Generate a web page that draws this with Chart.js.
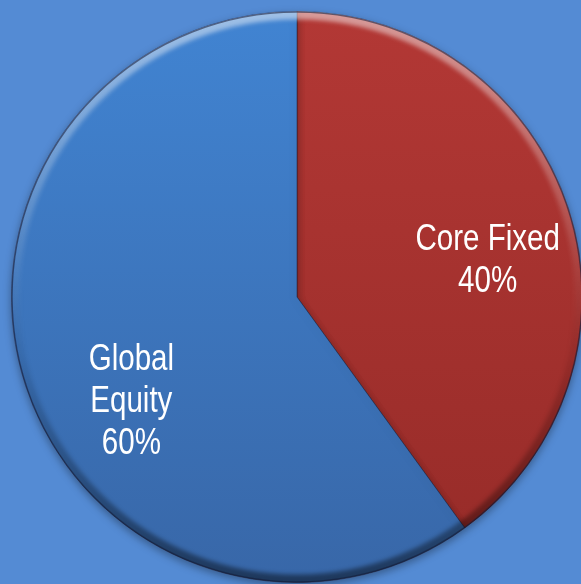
<!DOCTYPE html>
<html>
<head>
<meta charset="utf-8">
<title>Allocation</title>
<script src="https://cdn.jsdelivr.net/npm/chart.js@4.4.1/dist/chart.umd.min.js"></script>
<style>
  html, body { margin: 0; padding: 0; overflow: hidden; background: #548bd4; }
  #wrap { position: absolute; left: 0; top: 0; width: 594px; height: 594px; }
</style>
</head>
<body>
<div id="wrap"><canvas id="allocChart" width="594" height="594"></canvas></div>
<script>
// portfolio split
var categories = ["Core Fixed", "Global Equity"];
var labelLines = [["Core Fixed"], ["Global", "Equity"]];
var shares = [40, 60];

// slice fills, top -> bottom
var topColors = ["#b33835", "#4184d2"];
var bottomColors = ["#962b28", "#3867a8"];
// label nudges in px from the slice mid point
var labelNudge = [[6, 24], [19, 45]];

var ctx = document.getElementById("allocChart").getContext("2d");

function sliceFill(context) {
  var i = context.dataIndex;
  var area = context.chart.chartArea;
  if (!area) return topColors[i];
  var g = context.chart.ctx.createLinearGradient(0, area.top, 0, area.bottom);
  g.addColorStop(0, topColors[i]);
  g.addColorStop(1, bottomColors[i]);
  return g;
}

// soft drop shadow under the pie
var shadowPlugin = {
  id: "pieShadow",
  beforeDatasetsDraw: function (chart) {
    var c = chart.ctx;
    c.save();
    c.shadowColor = "rgba(0,0,0,0.35)";
    c.shadowBlur = 8;
    c.shadowOffsetY = 3;
  },
  afterDatasetsDraw: function (chart) {
    chart.ctx.restore();
  }
};

// bevel round the rim + slice labels
var bevelPlugin = {
  id: "bevelLabels",
  afterDatasetsDraw: function (chart) {
    var c = chart.ctx;
    var meta = chart.getDatasetMeta(0);
    meta.data.forEach(function (arc, i) {
      var p = arc.getProps(["x", "y", "startAngle", "endAngle", "outerRadius"], true);
      c.save();
      c.beginPath();
      c.moveTo(p.x, p.y);
      c.arc(p.x, p.y, p.outerRadius, p.startAngle, p.endAngle);
      c.closePath();
      c.clip();
      var g = c.createLinearGradient(0, p.y - p.outerRadius, 0, p.y + p.outerRadius);
      g.addColorStop(0, "rgba(255,255,255,0.5)");
      g.addColorStop(0.45, "rgba(255,255,255,0.08)");
      g.addColorStop(0.6, "rgba(0,0,0,0.05)");
      g.addColorStop(1, "rgba(0,0,0,0.45)");
      c.filter = "blur(2px)";
      c.strokeStyle = g;
      c.lineWidth = 12;
      c.beginPath();
      c.arc(p.x, p.y, p.outerRadius - 2, 0, Math.PI * 2);
      c.stroke();
      c.filter = "none";
      c.strokeStyle = "rgba(20,30,60,0.55)";
      c.lineWidth = 1.5;
      c.beginPath();
      c.arc(p.x, p.y, p.outerRadius - 0.5, 0, Math.PI * 2);
      c.stroke();
      c.restore();
    });

    c.save();
    c.fillStyle = "#ffffff";
    c.font = "36px 'Liberation Sans', Arial, sans-serif";
    c.textAlign = "center";
    c.textBaseline = "middle";
    meta.data.forEach(function (arc, i) {
      var p = arc.getProps(["x", "y", "startAngle", "endAngle", "outerRadius"], true);
      var mid = (p.startAngle + p.endAngle) / 2;
      var r = p.outerRadius * 0.68;
      var cx = p.x + Math.cos(mid) * r + labelNudge[i][0];
      var cy = p.y + Math.sin(mid) * r + labelNudge[i][1];
      var lines = labelLines[i].concat([shares[i] + "%"]);
      var lh = 42;
      var y0 = cy - (lines.length - 1) * lh / 2;
      lines.forEach(function (t, k) {
        // condensed look: squeeze glyphs horizontally
        c.save();
        c.translate(cx, y0 + k * lh);
        c.scale(0.82, 1);
        c.fillText(t, 0, 0);
        c.restore();
      });
    });
    c.restore();
  }
};

new Chart(ctx, {
  type: "pie",
  data: {
    labels: categories,
    datasets: [{
      data: shares,
      backgroundColor: sliceFill,
      borderColor: "rgba(40,30,50,0.5)",
      borderWidth: 1
    }]
  },
  options: {
    responsive: false,
    animation: false,
    layout: { padding: 11 },
    plugins: {
      legend: { display: false },
      tooltip: { enabled: false }
    }
  },
  plugins: [shadowPlugin, bevelPlugin]
});
</script>
</body>
</html>
